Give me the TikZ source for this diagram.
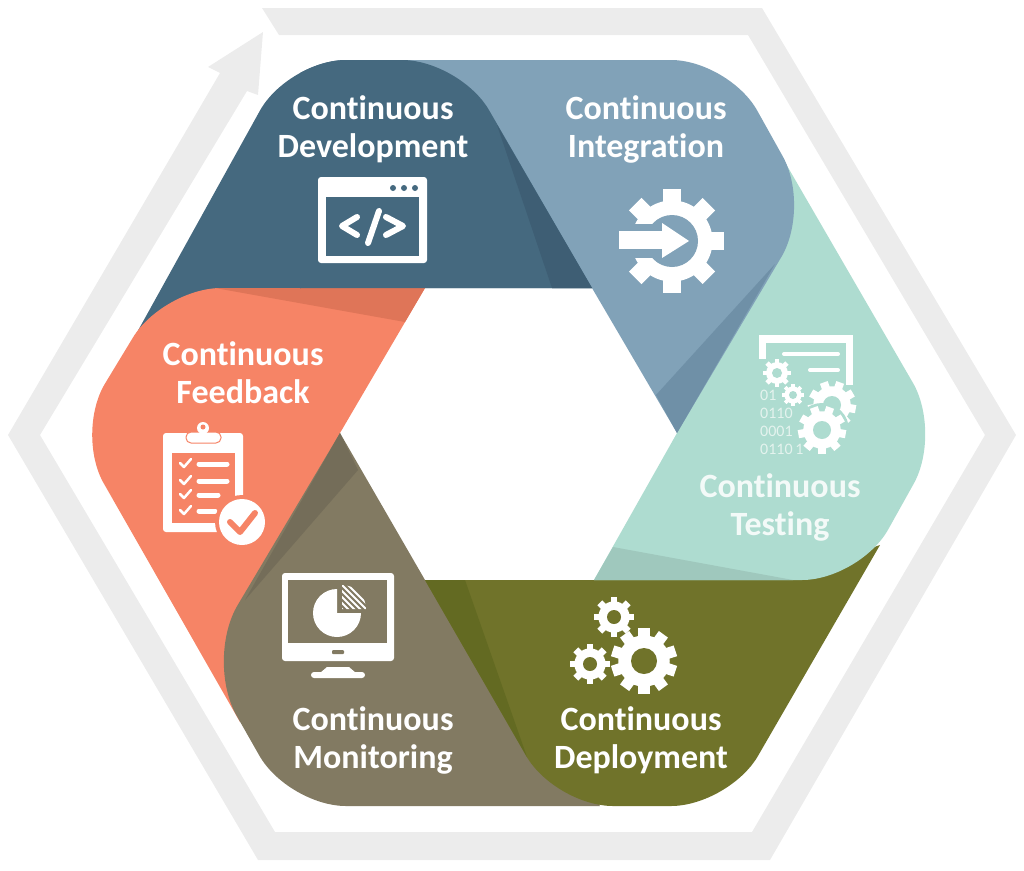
\documentclass[tikz,border=0pt]{standalone}
\usepackage{fontspec}
\setmainfont[RawFeature=-liga]{Carlito}

\definecolor{ringcol}{HTML}{ECECEC}
\definecolor{devcol}{HTML}{45697F}
\definecolor{devdark}{HTML}{3E5E74}
\definecolor{intcol}{HTML}{81A2B8}
\definecolor{intdark}{HTML}{6F90A7}
\definecolor{testcol}{HTML}{AEDCD0}
\definecolor{testdark}{HTML}{9FC8BD}
\definecolor{testtext}{HTML}{F3FAF8}
\definecolor{depcol}{HTML}{70732A}
\definecolor{depdark}{HTML}{636A22}
\definecolor{moncol}{HTML}{827A62}
\definecolor{mondark}{HTML}{746D59}
\definecolor{feedcol}{HTML}{F68466}
\definecolor{feeddark}{HTML}{DF7558}
\definecolor{digitcol}{HTML}{E4F3EE}

\newcommand{\devshape}{(135,336) [rounded corners=58] -- (288,60) -- (460,60) [sharp corners] -- (592,288) -- (300,288) -- (300,336) -- cycle}
\newcommand{\devstrip}{(497,125) -- (552,288) -- (592,288) -- cycle}

\newcommand{\gearicon}[6]{%
  \begin{scope}[shift={(#1,#2)}]
    \foreach \k in {1,...,#5}
      \fill[white,rotate=\k*360/#5] (-0.17*#3,0) rectangle (0.17*#3,#3);
    \fill[white] (0,0) circle ({0.78*#3});
    \fill[#6] (0,0) circle (#4);
  \end{scope}}

\tikzset{
  petallabel/.style={text=white,font=\fontsize{34}{38}\selectfont\bfseries,align=center},
  digits/.style={text=digitcol,font=\fontsize{16}{16}\selectfont,anchor=west,inner sep=0pt},
  iconline/.style={white,line width=5,line cap=round,line join=round}
}

\begin{document}
\begin{tikzpicture}[x=1pt,y=-1pt]
  \useasboundingbox (0,0) rectangle (1024,870);

  \fill[ringcol] (262,8) -- (762,8) -- (1016,435) -- (770,860) -- (258,860) -- (8,435)
    -- (220,73) -- (208,67) -- (263,32) -- (258,95) -- (247,91) -- (40,435)
    -- (275,832) -- (752,832) -- (985,435) -- (748,35) -- (279,35) -- cycle;

  \fill[devcol] \devshape;
  \fill[devdark] \devstrip;

  \fill[feedcol] (425,288) [rounded corners=58] -- (163,288) -- (75,433) [sharp corners] -- (240,722) -- (310,600) -- (340,433) -- cycle;
  \fill[feeddark] (215,288) -- (405,322) -- (425,288) -- cycle;

  \fill[moncol] (340,433) [rounded corners=64] -- (205,660) [rounded corners=58] -- (288,806) [sharp corners] -- (600,806) -- (470,620) -- (425,580) -- cycle;
  \fill[mondark] (340,433) -- (358,470) -- (245,600) -- cycle;

  \fill[depcol] (425,580) -- (780,580) -- (880,545) [rounded corners=58] -- (729,806) -- (555,806) [sharp corners] -- cycle;
  \fill[depdark] (425,580) -- (465,580) -- (527,757) -- cycle;

  \fill[testcol] (677,433) -- (594,580) [rounded corners=58] -- (860,580) -- (942,433) [sharp corners] -- (775,145) -- (700,300) -- cycle;
  \fill[testdark] (613,547) -- (793,580) -- (594,580) -- cycle;

  \fill[intcol] (677,433) -- (592,288) -- (500,200) -- (390,60) [rounded corners=58] -- (729,60) -- (811,207) [sharp corners] -- cycle;
  \fill[intdark] (775,264) -- (656,395) -- (677,433) -- cycle;

  \begin{scope}
    \clip (300,40) rectangle (620,288);
    \fill[devcol] \devshape;
    \fill[devdark] \devstrip;
  \end{scope}

  \node[petallabel] (dev) at (373,129) {Continuous\\Development};
  \node[petallabel] (int) at (646,129) {Continuous\\Integration};
  \node[petallabel,text=testtext] (test) at (780,507) {Continuous\\Testing};
  \node[petallabel] (dep) at (641,740) {Continuous\\Deployment};
  \node[petallabel] (mon) at (373,740) {Continuous\\Monitoring};
  \node[petallabel] (feed) at (243,373) {Continuous\\Feedback};

  \fill[white,rounded corners=3] (318,177) rectangle (427,263);
  \fill[devcol] (326,197) rectangle (419,256);
  \foreach \x in {393,404,415}
    \fill[devcol] (\x,188) circle (3);
  \draw[iconline,line width=6] (357,217) -- (342,226) -- (357,235);
  \draw[iconline,line width=6] (379,211) -- (368,243);
  \draw[iconline,line width=6] (386,217) -- (403,226) -- (386,235);

  \gearicon{672}{241}{52}{26}{8}{intcol}
  \fill[intcol] (612,224) rectangle (662,258);
  \fill[white] (619,231) rectangle (662,249);
  \fill[white] (662,223) -- (689,241) -- (662,258) -- cycle;

  \fill[white] (759,335) rectangle (853,343);
  \fill[white] (759,335) rectangle (766,359);
  \fill[white] (846,335) rectangle (853,385);
  \draw[iconline,line width=4] (784,354) -- (838,354);
  \draw[iconline,line width=4] (810,370) -- (838,370);
  \gearicon{777}{373}{14}{5}{8}{testcol}
  \gearicon{793}{395}{11}{4}{8}{testcol}
  \gearicon{832}{405}{24}{9}{9}{testcol}
  \fill[testcol] (822,430) circle (27);
  \gearicon{822}{430}{24}{9}{9}{testcol}
  \node[digits] (bitsa) at (760,395) {01};
  \node[digits] (bitsb) at (760,413) {0110};
  \node[digits] (bitsc) at (760,431) {0001};
  \node[digits] (bitsd) at (760,449) {0110\,1};

  \gearicon{644}{661}{33}{13}{10}{depcol}
  \gearicon{614}{617}{20}{7}{8}{depcol}
  \gearicon{590}{664}{20}{7}{8}{depcol}

  \fill[white,rounded corners=3] (282,573) rectangle (394,661);
  \fill[moncol] (288,580) rectangle (387,643);
  \fill[moncol,rounded corners=1] (332,650) rectangle (344,654);
  \fill[white] (327,667) -- (349,667) -- (356,673) -- (320,673) -- cycle;
  \fill[white,rounded corners=3] (311,672) rectangle (365,678);
  \fill[white] (337,613) -- (337,589) arc (-90:-360:24) -- cycle;
  \begin{scope}
    \clip (342,609) -- (342,585) arc (-90:0:24) -- cycle;
    \foreach \d in {0,6,...,48}
      \draw[white,line width=2] (336+\d,585) -- (366+\d,615) (336-\d,585) -- (366-\d,615);
  \end{scope}

  \fill[white,rounded corners=3] (163,433) rectangle (243,532);
  \fill[feedcol] (172,453) rectangle (235,523);
  \fill[white,rounded corners=5,draw=feedcol,line width=1] (186,432) rectangle (221,443);
  \fill[white] (203,428) circle (6);
  \fill[feedcol] (203,427) circle (2.5);
  \foreach \y/\e in {463/227,480/227,494/218,510/215} {
    \draw[iconline,line width=2.5] (180,\y) -- (184,\y+4) -- (191,\y-4);
    \draw[iconline,line width=5] (199,\y+1) -- (\e,\y+1);
  }
  \fill[feedcol] (242,522) circle (27);
  \fill[white] (242,522) circle (23);
  \draw[iconline,feedcol,line width=6] (230,522) -- (240,532) -- (255,513);
\end{tikzpicture}
\end{document}
